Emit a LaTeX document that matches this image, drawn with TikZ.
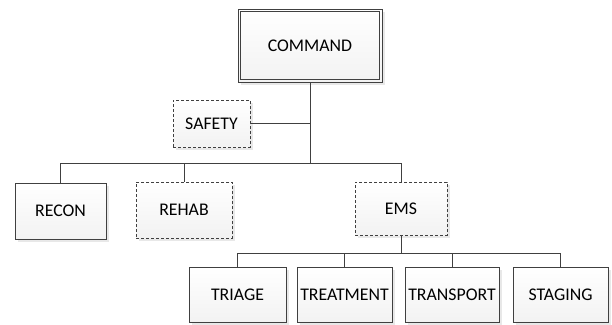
\documentclass[tikz,border=0pt]{standalone}
\usepackage{fontspec}
\setmainfont{Carlito}
\usetikzlibrary{shadows}

\begin{document}
\begin{tikzpicture}[x=1pt,y=-1pt,font=\fontsize{17.8}{20}\selectfont,
 unit/.style={draw=black!75,line width=0.9pt,top color=white,bottom color=gray!10,align=center,inner sep=2pt,
   drop shadow={shadow xshift=3pt,shadow yshift=-3pt,fill=gray!30,opacity=0.6}},
 staff/.style={unit,dashed,dash pattern=on 3pt off 2pt},
 link/.style={draw=black!75,line width=0.9pt}]
\useasboundingbox (0,0) rectangle (612,324);
\node[unit,minimum width=144pt,minimum height=73pt] (cmd) at (310,45.5) {COMMAND};
\draw[link] ([xshift=3pt,yshift=-3pt]cmd.north west) rectangle ([xshift=-3pt,yshift=3pt]cmd.south east);
\node[staff,minimum width=77pt,minimum height=47pt] (safety) at (211.5,123.5) {SAFETY};
\node[unit,minimum width=91pt,minimum height=56pt] (recon) at (60.5,211) {RECON};
\node[staff,minimum width=96pt,minimum height=56pt] (rehab) at (184,210) {REHAB};
\node[staff,minimum width=92pt,minimum height=53pt] (ems) at (401,208.5) {EMS};
\node[unit,minimum width=97pt,minimum height=55pt] (triage) at (237.5,294.5) {TRIAGE};
\node[unit,minimum width=95pt,minimum height=55pt] (treat) at (344.5,294.5) {TREATMENT};
\node[unit,minimum width=94pt,minimum height=55pt] (trans) at (452,294.5) {TRANSPORT};
\node[unit,minimum width=95pt,minimum height=55pt] (stage) at (560.5,294.5) {STAGING};
\coordinate (bus) at (0,163); \coordinate (emsbus) at (0,253);
% command level
\draw[link] (cmd.south) -- (cmd.south |- bus) -| (recon.north);
\draw[link] (cmd.south |- bus) -| (rehab.north);
\draw[link] (cmd.south |- bus) -| (ems.north);
\draw[link] (safety.east) -- (safety.east -| cmd.south);
% ems level
\draw[link] (ems.south) -- (ems.south |- emsbus) -| (triage.north);
\draw[link] (ems.south |- emsbus) -| (treat.north);
\draw[link] (ems.south |- emsbus) -| (trans.north);
\draw[link] (ems.south |- emsbus) -| (stage.north);
\end{tikzpicture}
\end{document}
